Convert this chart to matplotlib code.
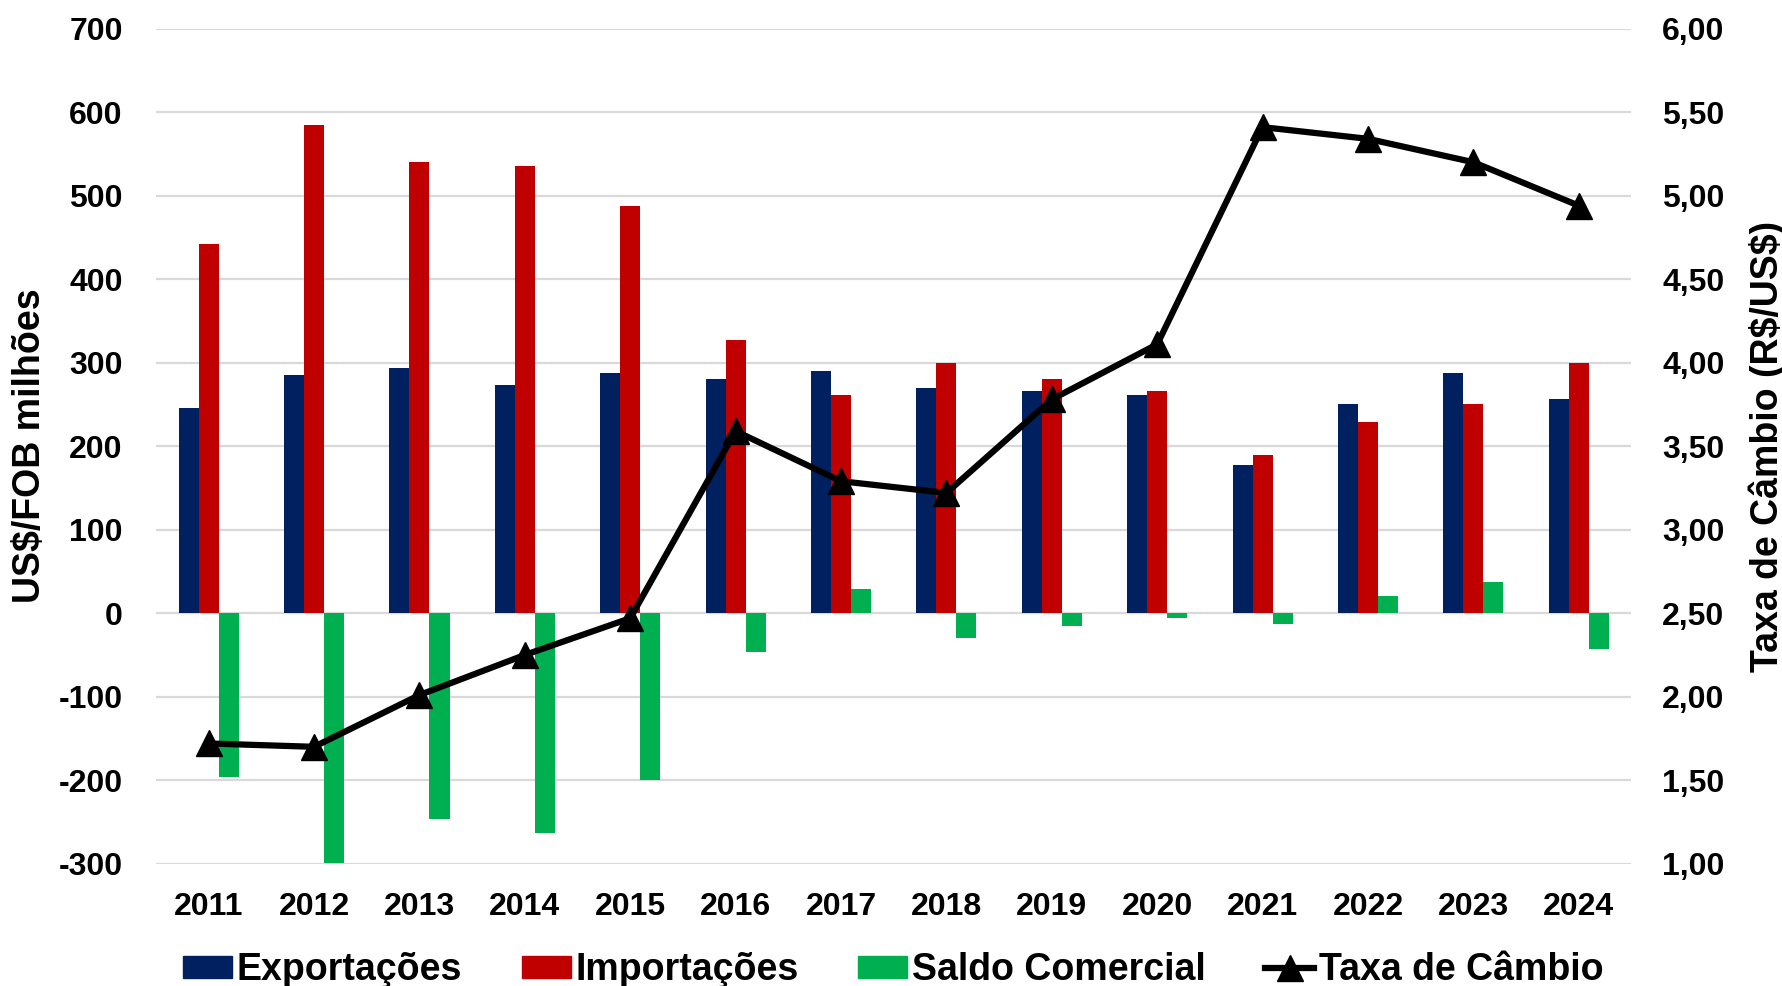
import matplotlib
matplotlib.use("Agg")
import matplotlib.pyplot as plt
import numpy as np
from matplotlib.lines import Line2D
from matplotlib.patches import Patch
from matplotlib.ticker import FuncFormatter, MultipleLocator

anos = ["2011", "2012", "2013", "2014", "2015", "2016", "2017",
        "2018", "2019", "2020", "2021", "2022", "2023", "2024"]
exportacoes = [246, 285, 293, 273, 288, 281, 290, 270, 266, 261, 177, 250, 288, 257]
importacoes = [442, 584, 540, 536, 488, 327, 261, 300, 281, 266, 189, 229, 250, 299]
saldo = [-196, -299, -247, -263, -200, -46, 29, -30, -15, -6, -13, 21, 37, -43]
cambio = [1.72, 1.70, 2.01, 2.25, 2.47, 3.59, 3.29, 3.22, 3.78, 4.11, 5.41, 5.34, 5.20, 4.94]

AZUL = "#002060"
VERMELHO = "#C00000"
VERDE = "#00B050"
GRADE = "#d9d9d9"

plt.rcParams["font.family"] = ["Liberation Sans", "DejaVu Sans"]
plt.rcParams["font.weight"] = "bold"
plt.rcParams["axes.unicode_minus"] = False


def main() -> None:
    fig = plt.figure(figsize=(17.83, 9.86), dpi=100)
    ax = fig.add_axes([0.0875, 0.124, 0.8275, 0.847])
    x = np.arange(len(anos))
    w = 0.19

    ax.bar(x - w, exportacoes, w, color=AZUL, zorder=2)
    ax.bar(x, importacoes, w, color=VERMELHO, zorder=2)
    ax.bar(x + w, saldo, w, color=VERDE, zorder=2)

    ax.set_ylim(-300, 700)
    ax.yaxis.set_major_locator(MultipleLocator(100))
    ax.set_xlim(-0.5, len(anos) - 0.5)
    ax.set_xticks(x)
    ax.set_xticklabels(anos)
    ax.grid(axis="y", color=GRADE, lw=1.6, zorder=0)
    ax.set_axisbelow(True)
    for s in ax.spines.values():
        s.set_visible(False)
    ax.tick_params(length=0, labelsize=23)
    ax.tick_params(axis="y", pad=24)
    ax.tick_params(axis="x", pad=20)
    ax.set_ylabel("US\\$/FOB milhões", fontsize=27, fontweight="bold")
    ax.yaxis.set_label_coords(-0.073, 0.5)

    ax2 = ax.twinx()
    ax2.plot(x, cambio, color="black", lw=4.5, marker="^", markersize=19, zorder=5)
    ax2.set_ylim(1.0, 6.0)
    ax2.yaxis.set_major_locator(MultipleLocator(0.5))
    ax2.yaxis.set_major_formatter(FuncFormatter(lambda v, _: f"{v:.2f}".replace(".", ",")))
    for s in ax2.spines.values():
        s.set_visible(False)
    ax2.tick_params(length=0, pad=22, labelsize=23)
    ax2.set_ylabel("Taxa de Câmbio (R\\$/US\\$)", fontsize=27, fontweight="bold")
    ax2.yaxis.set_label_coords(1.079, 0.5)

    handles = [
        Patch(color=AZUL, label="Exportações"),
        Patch(color=VERMELHO, label="Importações"),
        Patch(color=VERDE, label="Saldo Comercial"),
        Line2D([], [], color="black", lw=4.5, marker="^", markersize=19, label="Taxa de Câmbio"),
    ]
    fig.legend(handles=handles, loc="center", bbox_to_anchor=(0.501, 0.016), ncol=4,
               frameon=False, handlelength=1.3, handleheight=0.5, handletextpad=0.12,
               columnspacing=1.6, prop={"weight": "bold", "size": 27})

    fig.savefig("out.png", dpi=100)
    plt.close(fig)


if __name__ == "__main__":
    main()
